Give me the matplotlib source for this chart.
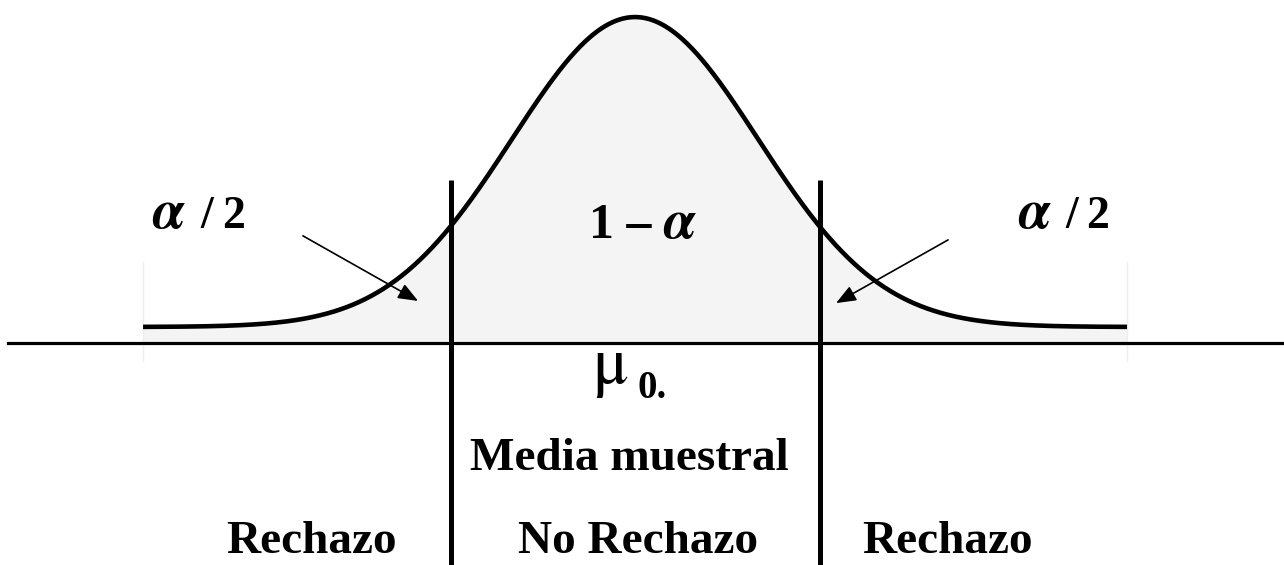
import numpy as np
import matplotlib
matplotlib.use("Agg")
import matplotlib.pyplot as plt

# Standardised normal curve, scaled so that its peak is 1
z_range = (-4.0, 4.0)
z_crit = 1.5                      # two-sided critical value shown by the bars
region_labels = ["Rechazo", "No Rechazo", "Rechazo"]
region_centers = [-2.63, 0.02, 2.54]
tail_alpha_x = [-3.79, 3.25]
tail_frac_x = [-3.53, 3.50]
alpha_sym = r"$\boldsymbol{\alpha}$"
mean_label = r"$\mathrm{\mu}$"
mean_sub = "0."
axis_label = "Media muestral"

z = np.linspace(z_range[0], z_range[1], 800)
dens = np.exp(-0.5 * z ** 2)

axis_y = -0.052
bar_top = 0.474
bottom = -0.768

fig = plt.figure(figsize=(12.84, 5.65), dpi=100)
ax = fig.add_axes([0, 0, 1, 1])
ax.set_xlim(-5.163, 5.276)
ax.set_ylim(bottom, 1.055)
ax.axis("off")

serif = ["Liberation Serif", "DejaVu Serif"]

# light shading under the curve
ax.fill_between(z, dens, axis_y, color="#f4f4f4", zorder=1, lw=0)
for edge in z_range:
    ax.plot([edge, edge], [0.21, -0.11], color="#eeeeee", lw=1.0, zorder=1)

# baseline
ax.plot([-5.1, 5.276], [axis_y, axis_y], color="black", lw=2.3, zorder=3)

# density curve
ax.plot(z, dens, color="black", lw=3.3, zorder=4, solid_capstyle="butt")

# critical-value bars
for c in (-z_crit, z_crit):
    ax.plot([c, c], [bar_top, bottom], color="black", lw=3.6, zorder=5,
            solid_capstyle="butt")

# arrows pointing into the tails
arrow_kw = dict(arrowstyle="-|>,head_length=0.55,head_width=0.22",
                color="black", lw=1.2, mutation_scale=22, shrinkA=0, shrinkB=0)
ax.annotate("", xy=(-1.764, 0.084), xytext=(-2.70, 0.294), arrowprops=arrow_kw,
            zorder=6)
ax.annotate("", xy=(1.634, 0.077), xytext=(2.545, 0.281), arrowprops=arrow_kw,
            zorder=6)

# tail annotations: alpha / 2
for xa, xf in zip(tail_alpha_x, tail_frac_x):
    ax.text(xa, 0.319, alpha_sym, ha="center", va="baseline", fontsize=40,
            math_fontfamily="stix", zorder=7)
    ax.text(xf, 0.319, "/", ha="left", va="baseline", fontsize=33,
            fontweight="bold", family=serif, zorder=7)
    ax.text(xf + 0.17, 0.319, "2", ha="left", va="baseline", fontsize=33,
            fontweight="bold", family=serif, zorder=7)

# centre annotation: 1 - alpha
ax.text(0.13, 0.287, "1 –", ha="right", va="baseline", fontsize=36,
        fontweight="bold", family=serif, zorder=7)
ax.text(0.23, 0.287, alpha_sym, ha="left", va="baseline", fontsize=40,
        math_fontfamily="stix", zorder=7)

# mean marker under the axis
ax.text(-0.2, -0.18, mean_label, ha="center", va="baseline", fontsize=48,
        math_fontfamily="stix", zorder=7)
ax.text(0.02, -0.229, mean_sub, ha="left", va="baseline", fontsize=28,
        fontweight="bold", family=serif, zorder=7)

ax.text(-0.05, -0.461, axis_label, ha="center", va="baseline", fontsize=34,
        fontweight="bold", family=serif, zorder=7)

for xc, lab in zip(region_centers, region_labels):
    ax.text(xc, -0.73, lab, ha="center", va="baseline", fontsize=34,
            fontweight="bold", family=serif, zorder=7)

fig.savefig("out.png", dpi=100, facecolor="white")
